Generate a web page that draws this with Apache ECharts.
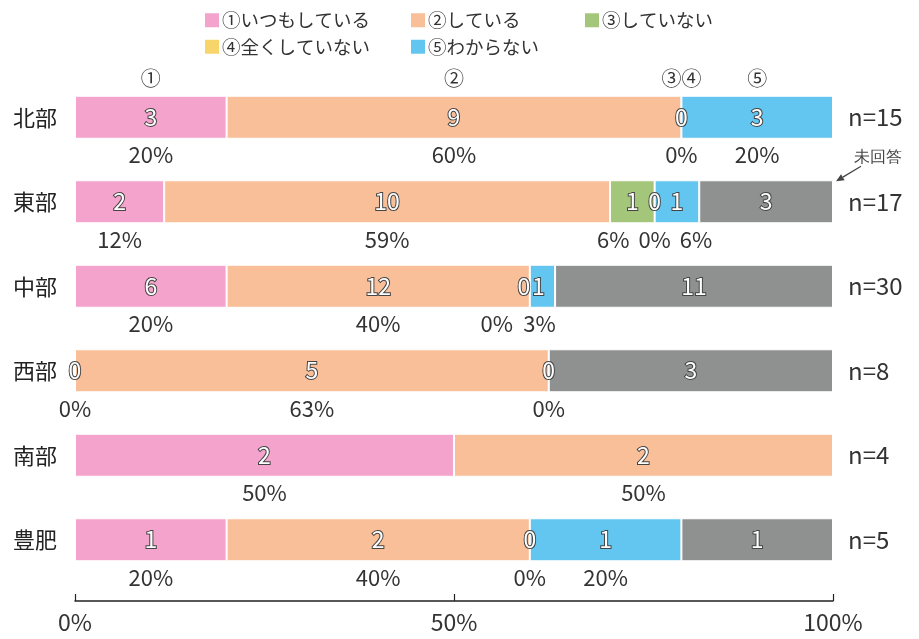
<!DOCTYPE html>
<html><head><meta charset="utf-8">
<script src="https://cdn.jsdelivr.net/npm/echarts@6/dist/echarts.min.js"></script>
<style>html,body{margin:0;padding:0;background:#fff}#c{width:919px;height:639px}</style>
</head><body><div id="c"></div>
<script>
// ---- data ----
const categories = ['北部', '東部', '中部', '西部', '南部', '豊肥'];
const nTotal = [15, 17, 30, 8, 4, 5];
const seriesNames = ['①いつもしている', '②している', '③していない', '④全くしていない', '⑤わからない', '未回答'];
const sAlways = [3, 2, 6, 0, 2, 1];
const sDoing = [9, 10, 12, 5, 2, 2];
const sNot = [0, 1, 0, 0, null, 0];
const sNever = [null, 0, null, null, null, null];
const sUnknown = [3, 1, 1, null, null, 1];
const sNoAnswer = [null, 3, 11, 3, null, 1];
const topMarks = ['①', '②', '③④', null, '⑤', null];
const xTicks = [0, 50, 100];

// ---- style ----
const FONT = '"Noto Sans CJK JP", "Noto Sans", sans-serif';
const colors = ['#f3a3cc', '#f9bf99', '#a3c67b', '#f8d56b', '#63c6f0', '#8f9090'];
const counts = [sAlways, sDoing, sNot, sNever, sUnknown, sNoAnswer];
// small horizontal nudges for crowded labels (series-row)
const countNudge = { '2-2': -6, '4-2': -4 };
const pctNudge = { '2-1': -19, '4-1': 19, '2-2': -33, '4-2': -3 };

const pctOf = (c, i) => c == null ? null : c / nTotal[i] * 100;
const BW = 43;

const chart = echarts.init(document.getElementById('c'));
const series = [];
counts.forEach((arr, k) => {
  series.push({
    name: seriesNames[k], type: 'bar', stack: 'main', barWidth: BW, barGap: '-100%', z: 3,
    animation: false, silent: true,
    itemStyle: { color: colors[k], borderColor: '#fff', borderWidth: 1 },
    label: {
      show: true, position: 'inside', fontSize: 23, fontFamily: FONT,
      color: '#fff', textBorderColor: '#444', textBorderWidth: 2,
      formatter: p => String(arr[p.dataIndex])
    },
    data: arr.map((c, i) => {
      const v = pctOf(c, i);
      const nd = countNudge[k + '-' + i];
      return nd ? { value: v, label: { offset: [nd, 0] } } : v;
    })
  });
});
counts.slice(0, 5).forEach((arr, k) => {
  series.push({
    name: 'pct' + k, type: 'bar', stack: 'pct', barWidth: BW, barGap: '-100%', z: 1,
    animation: false, silent: true,
    itemStyle: { color: 'rgba(0,0,0,0)' },
    label: {
      show: true, position: 'bottom', distance: 5, fontSize: 22, fontFamily: FONT, color: '#333',
      formatter: p => Math.round(p.value) + '%'
    },
    data: arr.map((c, i) => {
      const v = pctOf(c, i);
      const nd = pctNudge[k + '-' + i];
      return nd ? { value: v, label: { offset: [nd, 0] } } : v;
    })
  });
});
counts.forEach((arr, k) => {
  series.push({
    name: 'top' + k, type: 'bar', stack: 'top', barWidth: BW, barGap: '-100%', z: 1,
    animation: false, silent: true,
    itemStyle: { color: 'rgba(0,0,0,0)' },
    label: {
      show: !!topMarks[k], position: 'top', distance: 7, fontSize: 20, fontFamily: FONT, color: '#333',
      formatter: () => topMarks[k] || ''
    },
    data: arr.map((c, i) => i === 0 ? pctOf(c, i) : null)
  });
});

const legendBase = {
  orient: 'vertical', top: 6, itemWidth: 16, itemHeight: 16, itemGap: 8, icon: 'rect',
  selectedMode: false, textStyle: { fontSize: 18.5, fontFamily: FONT, color: '#333', padding: [0, 0, 0, -3] }
};

chart.setOption({
  animation: false,
  textStyle: { fontFamily: FONT },
  legend: [
    Object.assign({}, legendBase, { left: 198, data: [seriesNames[0], seriesNames[3]] }),
    Object.assign({}, legendBase, { left: 404, data: [seriesNames[1], seriesNames[4]] }),
    Object.assign({}, legendBase, { left: 578, data: [seriesNames[2]] })
  ],
  grid: { left: 75, right: 86, top: 75, height: 507, containLabel: false },
  xAxis: {
    type: 'value', min: xTicks[0], max: xTicks[2], interval: xTicks[1] - xTicks[0], offset: 19,
    axisLine: { show: true, lineStyle: { color: '#222', width: 1.5 } },
    axisTick: { show: true, inside: true, length: 7, lineStyle: { color: '#222', width: 1.2 } },
    axisLabel: { formatter: '{value}%', fontSize: 23, color: '#333', margin: 10, fontFamily: FONT },
    splitLine: { show: false }
  },
  yAxis: [
    {
      type: 'category', data: categories, inverse: true,
      axisLine: { show: false }, axisTick: { show: false },
      axisLabel: { fontSize: 22, color: '#222', margin: 18, fontFamily: FONT }
    },
    {
      type: 'category', position: 'right', data: nTotal.map(n => 'n=' + n), inverse: true,
      axisLine: { show: false }, axisTick: { show: false },
      axisLabel: { fontSize: 24, color: '#333', margin: 15, fontFamily: FONT }
    }
  ],
  series: series
});

// 未回答 annotation, anchored to the end of the 東部 bar
const anchor = chart.convertToPixel({ xAxisIndex: 0, yAxisIndex: 0 }, [100, categories[1]]);
const barTop = anchor[1] - BW / 2;
const E = [anchor[0] + 3, barTop + 1], S = [anchor[0] + 28, barTop - 14];
const dx = E[0] - S[0], dy = E[1] - S[1], L = Math.hypot(dx, dy);
const ux = dx / L, uy = dy / L, hl = 8, hw = 3.5;
const B = [E[0] - ux * hl, E[1] - uy * hl];
chart.setOption({
  graphic: [
    { type: 'text', x: anchor[0] + 45, y: barTop - 23, style: { text: '未回答', fontSize: 16, fill: '#444', font: '16px ' + FONT, align: 'center', verticalAlign: 'middle' } },
    { type: 'line', shape: { x1: S[0], y1: S[1], x2: B[0], y2: B[1] }, style: { stroke: '#444', lineWidth: 1.2 } },
    { type: 'polygon', shape: { points: [E, [B[0] - uy * hw, B[1] + ux * hw], [B[0] + uy * hw, B[1] - ux * hw]] }, style: { fill: '#444' } }
  ]
});
</script>
</body></html>
